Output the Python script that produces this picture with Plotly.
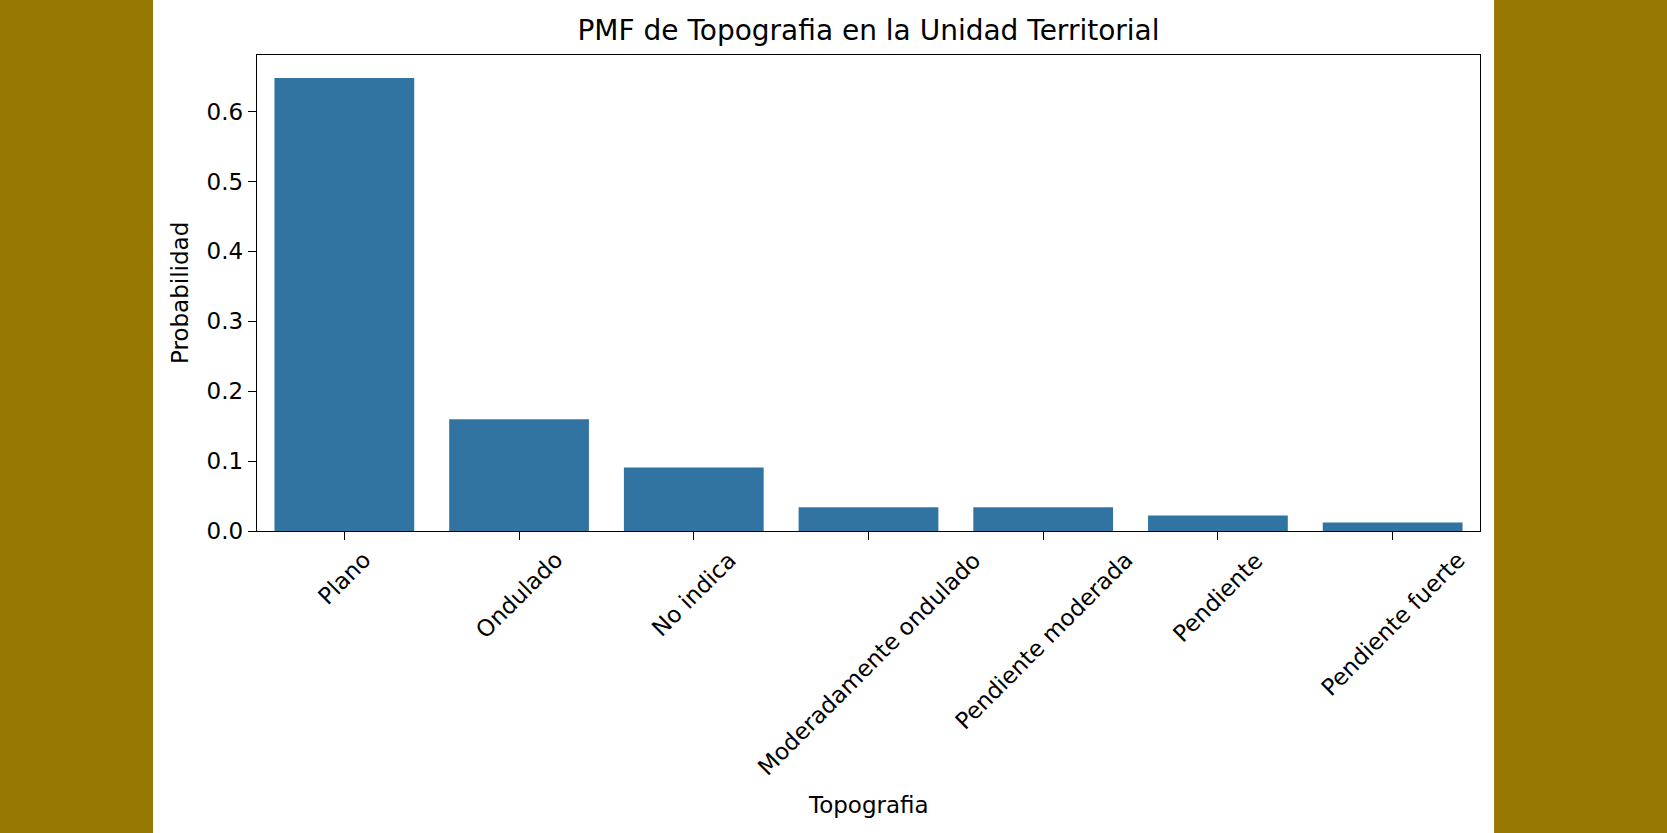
import plotly.graph_objects as go

categorias = ["Plano", "Ondulado", "No indica", "Moderadamente ondulado",
              "Pendiente moderada", "Pendiente", "Pendiente fuerte"]
probabilidad = [0.648, 0.160, 0.091, 0.034, 0.034, 0.022, 0.012]
y_ticks = [0.0, 0.1, 0.2, 0.3, 0.4, 0.5, 0.6]

font_fam = "DejaVu Sans"
left, right, top, bottom = 257, 187, 55, 302

fig = go.Figure()
fig.add_trace(go.Bar(x=categorias, y=probabilidad, marker_color="#3274a1",
                     marker_line_width=0, width=0.8))

# labels under the ticks, rotated 45 deg and centred like matplotlib does
for c in categorias:
    fig.add_annotation(x=c, xref="x", y=0, yref="paper", text=c, showarrow=False,
                       textangle=-45, xanchor="center", yanchor="top", yshift=-13,
                       font=dict(family=font_fam, size=23, color="black"))

fig.add_annotation(x=0.5, xref="paper", y=0, yref="paper", text="Topografia",
                   showarrow=False, xanchor="center", yanchor="middle", yshift=-274,
                   font=dict(family=font_fam, size=23, color="black"))
fig.add_annotation(x=0, xref="paper", y=0.5, yref="paper", text="Probabilidad",
                   showarrow=False, textangle=-90, xanchor="center", yanchor="middle",
                   xshift=-77, font=dict(family=font_fam, size=23, color="black"))

# white figure area over the gold page
fig.add_shape(type="rect", xref="paper", yref="paper", x0=-0.085, x1=1.0115,
              y0=-1, y1=2, fillcolor="white", line_width=0, layer="below")

fig.update_layout(
    width=1667, height=833,
    margin=dict(l=left, r=right, t=top, b=bottom),
    paper_bgcolor="#977802", plot_bgcolor="white",
    showlegend=False,
    title=dict(text="PMF de Topografia en la Unidad Territorial", x=0.5, xref="paper",
               y=1 - 30 / 833, yanchor="middle",
               font=dict(family=font_fam, size=28, color="black")),
    font=dict(family=font_fam, color="black"),
)
fig.update_xaxes(range=[-0.5, 6.5], showticklabels=False, ticks="outside", ticklen=8,
                 tickwidth=1.3, tickcolor="black", showline=True, mirror=True,
                 linecolor="black", linewidth=1.4, showgrid=False, zeroline=False)
fig.update_yaxes(range=[0, 0.681], tickvals=y_ticks, tickformat=".1f", ticks="outside",
                 ticklen=8, tickwidth=1.3, tickcolor="black", showline=True, mirror=True,
                 linecolor="black", linewidth=1.4, showgrid=False, zeroline=False,
                 tickfont=dict(family=font_fam, size=23, color="black"))

fig.write_html("out.html", config={"displayModeBar": False},
               post_script="document.body.style.margin='0';")
